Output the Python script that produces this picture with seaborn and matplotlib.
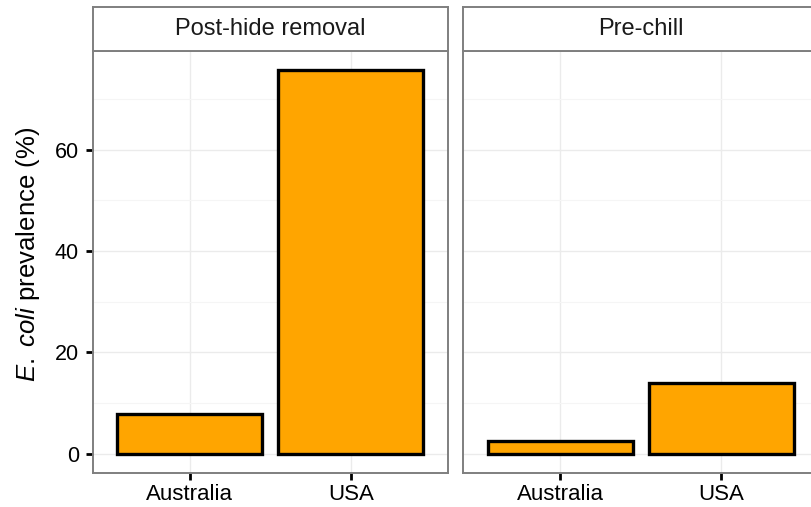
import matplotlib
matplotlib.use("Agg")
import matplotlib.pyplot as plt
import seaborn as sns
import pandas as pd

# Prevalence data per processing stage
stages = ["Post-hide removal", "Pre-chill"]
countries = ["Australia", "USA"]
post_hide = [7.9, 75.8]
pre_chill = [2.5, 13.9]

df = pd.DataFrame({
    "stage": [stages[0]] * 2 + [stages[1]] * 2,
    "country": countries * 2,
    "prevalence": post_hide + pre_chill,
})

sns.set_theme(style="white")
plt.rcParams["font.family"] = ["Liberation Sans", "DejaVu Sans"]
plt.rcParams["mathtext.fontset"] = "custom"
plt.rcParams["mathtext.rm"] = "Liberation Sans"
plt.rcParams["mathtext.it"] = "Liberation Sans:italic"

W, H = 811, 507
fig = plt.figure(figsize=(W / 100, H / 100), dpi=100)

panel_w = 355 / W
panel_h = 422 / H
panel_bottom = 34.3 / H
lefts = [92.7 / W, 463.3 / W]
strip_h = 43.4 / H

ymax = max(post_hide + pre_chill)
ylim = (-0.05 * ymax, ymax * 1.05)
border = "#7F7F7F"

for i, stage in enumerate(stages):
    ax = fig.add_axes([lefts[i], panel_bottom, panel_w, panel_h])
    sub = df[df["stage"] == stage]
    sns.barplot(data=sub, x="country", y="prevalence", order=countries,
                color="#FFA500", saturation=1, width=0.9,
                edgecolor="black", linewidth=2.4, ax=ax, zorder=3)
    ax.set_xlim(-0.6, 1.6)
    ax.set_ylim(*ylim)
    ax.set_yticks([0, 20, 40, 60])
    ax.set_yticks([10, 30, 50, 70], minor=True)
    ax.grid(True, which="major", color="#EBEBEB", linewidth=1.0, zorder=0)
    ax.grid(True, which="minor", axis="y", color="#F5F5F5", linewidth=0.8, zorder=0)
    ax.set_axisbelow(True)
    for s in ax.spines.values():
        s.set_color(border)
        s.set_linewidth(1.4)
    ax.set_xlabel("")
    ax.tick_params(axis="x", which="major", length=5, width=2.0, color="black",
                   labelsize=16, labelcolor="black", pad=3, bottom=True)
    ax.tick_params(axis="y", which="minor", length=0)
    if i == 0:
        ax.tick_params(axis="y", which="major", length=5, width=2.0, color="black",
                       labelsize=15.5, labelcolor="black", pad=5, left=True)
        ax.set_ylabel(r"$\mathit{E.\ coli}$ prevalence (%)", fontsize=18.5,
                      color="black")
        ax.yaxis.set_label_coords(-0.144, 0.518)
    else:
        ax.tick_params(axis="y", which="major", length=0, labelleft=False)
        ax.set_ylabel("")

    # facet strip
    sax = fig.add_axes([lefts[i], panel_bottom + panel_h, panel_w, strip_h])
    sax.set_xticks([])
    sax.set_yticks([])
    sax.set_facecolor("white")
    for s in sax.spines.values():
        s.set_color(border)
        s.set_linewidth(1.4)
    sax.text(0.5, 0.5, stage, ha="center", va="center", fontsize=17,
             color="#1A1A1A", transform=sax.transAxes)

fig.savefig("out.png", dpi=100)
